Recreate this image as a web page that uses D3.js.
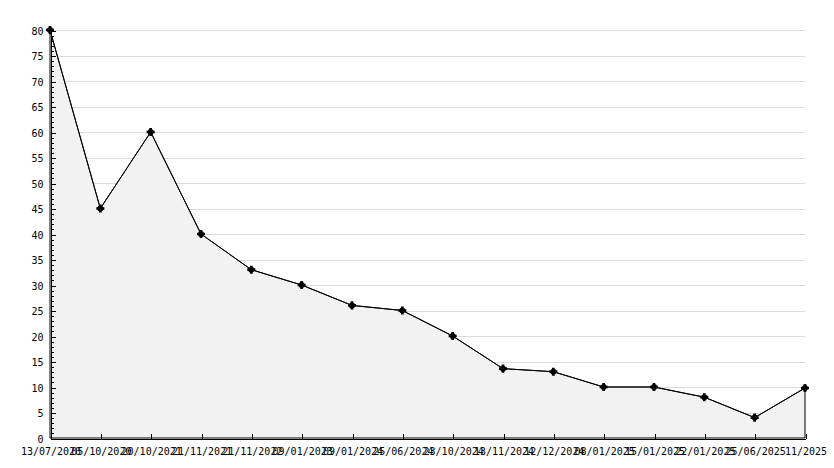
<!DOCTYPE html>
<meta charset="utf-8">
<style>
body { margin: 0; background: #fff; }
text { font: 10px "DejaVu Sans Mono", monospace; fill: #000; }
.grid line { stroke: #dcdcdc; }
.axis path, .axis line { stroke: #000; shape-rendering: crispEdges; }
</style>
<svg width="834" height="468" id="svg"></svg>
<script src="https://d3js.org/d3.v7.min.js"></script>
<script>

// readings
var dates = ["13/07/2020", "05/10/2020", "20/10/2021", "21/11/2021", "21/11/2022",
             "09/01/2023", "09/01/2024", "25/06/2024", "23/10/2024", "13/11/2024",
             "12/12/2024", "08/01/2025", "15/01/2025", "22/01/2025", "25/06/2025",
             "11/2025"];
var counts = [80, 45, 60, 40, 33, 30, 26, 25, 20, 13.6, 13, 10, 10, 8, 4, 9.8];
var yMajor = d3.range(0, 81, 5);
var yMinor = d3.range(0, 81, 1);

var svg = d3.select("svg");

var x = d3.scalePoint()
    .domain(dates)
    .range([50, 805]);

var y = d3.scaleLinear()
    .domain([0, 80])
    .range([438, 30]);

var data = dates.map(function(d, i) { return {date: d, value: counts[i]}; });

// grid
svg.append("g")
    .attr("class", "grid")
  .selectAll("line")
  .data(yMajor.filter(function(v) { return v > 0; }))
  .enter().append("line")
    .attr("x1", 50)
    .attr("x2", 805)
    .attr("y1", function(d) { return Math.round(y(d)) + 0.5; })
    .attr("y2", function(d) { return Math.round(y(d)) + 0.5; });

// filled area
var area = d3.area()
    .x(function(d) { return x(d.date); })
    .y0(y(0))
    .y1(function(d) { return y(d.value); });

svg.append("path")
    .datum(data)
    .attr("d", area)
    .attr("fill", "#f2f2f2")
    .attr("stroke", "#000")
    .attr("stroke-width", 1);

// axes
svg.append("g")
    .attr("class", "axis")
    .attr("transform", "translate(50.5,0.5)")
    .call(d3.axisLeft(y).tickValues(yMinor).tickSize(-3).tickSizeOuter(0).tickFormat(""));

svg.append("g")
    .attr("class", "axis")
    .attr("transform", "translate(50.5,0.5)")
    .call(d3.axisLeft(y).tickValues(yMajor).tickSize(-5).tickSizeOuter(0).tickPadding(7))
    .call(function(g) {
      g.selectAll("text").attr("dy", "0.35em").attr("x", -7);
    });

var xAxis = svg.append("g")
    .attr("class", "axis")
    .attr("transform", "translate(0.5,438.5)")
    .call(d3.axisBottom(x).tickSize(-5).tickSizeOuter(0));

xAxis.selectAll("text")
    .attr("y", 16)
    .attr("dy", 0);

// line and markers
var line = d3.line()
    .x(function(d) { return x(d.date); })
    .y(function(d) { return y(d.value); });

svg.append("path")
    .datum(data)
    .attr("d", line)
    .attr("fill", "none")
    .attr("stroke", "#000")
    .attr("stroke-width", 1);

var marks = svg.append("g")
  .selectAll("g")
  .data(data)
  .enter().append("g")
    .attr("transform", function(d) { return "translate(" + x(d.date) + "," + y(d.value) + ")"; });

marks.append("circle")
    .attr("r", 3)
    .attr("fill", "#000");

marks.append("path")
    .attr("d", d3.symbol().type(d3.symbolCross).size(36))
    .attr("fill", "#000");

</script>
